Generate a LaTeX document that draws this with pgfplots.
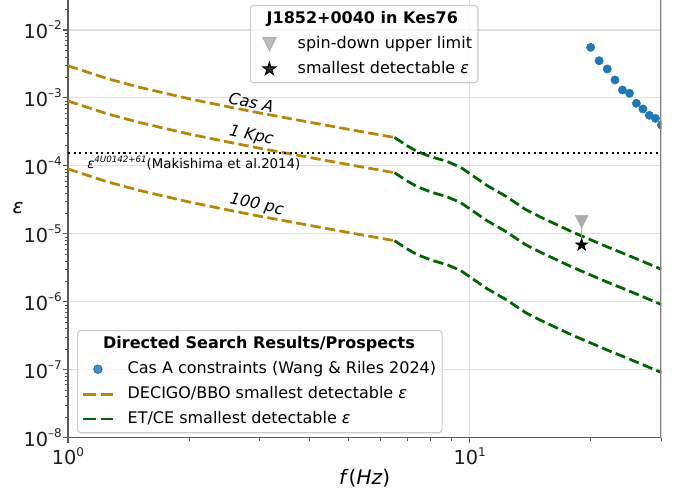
\documentclass[border=0pt]{standalone}
\usepackage{fontspec}
\setmainfont{DejaVu Sans}
\usepackage{pgfplots}
\pgfplotsset{compat=1.18}

\definecolor{dgold}{RGB}{184,134,11}
\definecolor{dgreen}{RGB}{0,100,0}
\definecolor{tabblue}{RGB}{31,119,180}
\definecolor{spine}{RGB}{90,90,90}

% raised exponent for the tick labels
\newcommand{\sups}[1]{\raisebox{0.45em}{\fontsize{9}{10}\selectfont #1}}
% legend title that does not widen the text column
\newcommand{\legtitle}[2]{\makebox[0pt][l]{\hspace*{#1}\textbf{#2}}}

% downward triangle (width = height)
\pgfdeclareplotmark{vtri}{%
  \pgfpathmoveto{\pgfqpoint{0pt}{-\pgfplotmarksize}}%
  \pgfpathlineto{\pgfqpoint{-\pgfplotmarksize}{\pgfplotmarksize}}%
  \pgfpathlineto{\pgfqpoint{\pgfplotmarksize}{\pgfplotmarksize}}%
  \pgfpathclose\pgfusepathqfillstroke}
% filled five-pointed star
\pgfdeclareplotmark{fivestar}{%
  \pgfpathmoveto{\pgfpointpolar{90}{\pgfplotmarksize}}%
  \pgfpathlineto{\pgfpointpolar{126}{0.382\pgfplotmarksize}}%
  \pgfpathlineto{\pgfpointpolar{162}{\pgfplotmarksize}}%
  \pgfpathlineto{\pgfpointpolar{198}{0.382\pgfplotmarksize}}%
  \pgfpathlineto{\pgfpointpolar{234}{\pgfplotmarksize}}%
  \pgfpathlineto{\pgfpointpolar{270}{0.382\pgfplotmarksize}}%
  \pgfpathlineto{\pgfpointpolar{306}{\pgfplotmarksize}}%
  \pgfpathlineto{\pgfpointpolar{342}{0.382\pgfplotmarksize}}%
  \pgfpathlineto{\pgfpointpolar{18}{\pgfplotmarksize}}%
  \pgfpathlineto{\pgfpointpolar{54}{0.382\pgfplotmarksize}}%
  \pgfpathclose\pgfusepathqfillstroke}

\pgfplotsset{
  every axis legend/.append style={
    draw=black!20, fill=white, fill opacity=0.8, text opacity=1,
    rounded corners=2.5pt, line width=0.8pt,
    font=\fontsize{12}{14}\selectfont,
    inner xsep=3pt, inner ysep=2.6pt, row sep=3.4pt, column sep=8.5pt,
    nodes={inner sep=1.5pt, text height=9.3pt, text depth=3pt}},
  legend image code/.code={%
    \path[draw=none, fill=none] (0pt,0pt) (22.5pt,0pt);
    \draw[mark repeat=2,mark phase=2,#1]
      plot coordinates {(0pt,0pt) (11.25pt,0pt) (22.5pt,0pt)};},
  decigo/.style={dgold, line width=2.08pt, dash pattern=on 7.7pt off 3.3pt},
  etce/.style={dgreen, line width=2.08pt, dash pattern=on 7.7pt off 3.3pt},
}

\begin{document}
\begin{tikzpicture}
\path[use as bounding box] (-51pt,-42.2pt) rectangle (459pt,328.3pt);
\begin{axis}[
  scale only axis, width=445pt, height=328.3pt,
  xmode=log, ymode=log,
  xmin=1, xmax=30, ymin=1e-8, ymax=0.02763,
  axis x line*=bottom, axis y line*=left,
  axis line style={-, draw=spine, line width=0.8pt},
  xtick={1,10}, xticklabels={10\sups{0},10\sups{1}},
  minor xtick={2,3,4,5,6,7,8,9,20,30},
  ytick={1e-8,1e-7,1e-6,1e-5,1e-4,1e-3,1e-2},
  yticklabels={10\sups{–8},10\sups{–7},10\sups{–6},10\sups{–5},10\sups{–4},10\sups{–3},10\sups{–2}},
  minor ytick={2e-8,3e-8,4e-8,5e-8,6e-8,7e-8,8e-8,9e-8,
    2e-7,3e-7,4e-7,5e-7,6e-7,7e-7,8e-7,9e-7,
    2e-6,3e-6,4e-6,5e-6,6e-6,7e-6,8e-6,9e-6,
    2e-5,3e-5,4e-5,5e-5,6e-5,7e-5,8e-5,9e-5,
    2e-4,3e-4,4e-4,5e-4,6e-4,7e-4,8e-4,9e-4,
    2e-3,3e-3,4e-3,5e-3,6e-3,7e-3,8e-3,9e-3,2e-2},
  tick align=outside,
  major tick length=3.6pt, minor tick length=2.1pt,
  tick style={spine, line width=0.8pt},
  minor tick style={line width=0.6pt},
  ticklabel style={font=\fontsize{14.5}{16}\selectfont, text=black!88},
  yticklabel style={xshift=2.5pt},
  grid=major, major grid style={black!12, line width=0.8pt},
  clip marker paths=true,
  xlabel={\textit{f}(\textit{Hz})},
  xlabel style={at={(axis description cs:0.5,-0.0914)}, anchor=center,
    font=\fontsize{15}{17}\selectfont},
  ylabel={\textit{ε}},
  ylabel style={at={(axis description cs:-0.0843,0.525)}, anchor=center, rotate=-90,
    font=\fontsize{15}{17}\selectfont},
  legend style={at={(0.0152,0.246)}, anchor=north west},
  legend cell align=left,
]
\addlegendimage{empty legend}
\addlegendentry{\legtitle{-18.4pt}{Directed Search Results/Prospects}}
\addlegendimage{only marks, mark=*, mark size=3.1pt, tabblue}
\addlegendentry{Cas A constraints (Wang \& Riles 2024)}
\addlegendimage{decigo, dash pattern=on 9pt off 4.5pt}
\addlegendentry{DECIGO/BBO smallest detectable \textit{ε}}
\addlegendimage{etce, dash pattern=on 9pt off 4.5pt}
\addlegendentry{ET/CE smallest detectable \textit{ε}}

% DECIGO/BBO reach for Cas A distance, 1 kpc and 100 pc
\addplot[decigo, forget plot] coordinates {
  (1,2.98e-3) (1.25,1.93e-3) (1.5,1.445e-3) (2,9.74e-4) (2.5,7.43e-4)
  (3,6.01e-4) (4,4.39e-4) (5,3.45e-4) (6.5,2.62e-4)};
\addplot[decigo, forget plot] coordinates {
  (1,9.02e-4) (1.25,5.86e-4) (1.5,4.38e-4) (2,2.95e-4) (2.5,2.25e-4)
  (3,1.82e-4) (4,1.33e-4) (5,1.045e-4) (6.5,7.94e-5)};
\addplot[decigo, forget plot] coordinates {
  (1,9.02e-5) (1.25,5.86e-5) (1.5,4.38e-5) (2,2.95e-5) (2.5,2.25e-5)
  (3,1.82e-5) (4,1.33e-5) (5,1.045e-5) (6.5,7.94e-6)};

% ET/CE reach for the same three distances
\addplot[etce, forget plot] coordinates {
  (6.5,2.62e-4) (7,1.97e-4) (7.4,1.63e-4) (8,1.37e-4) (8.8,1.16e-4)
  (9.5,9.5e-5) (10,7.72e-5) (11,5.23e-5) (12.3,3.58e-5) (13.8,2.27e-5)
  (15,1.77e-5) (18,1.07e-5) (22,6.44e-6) (24,5.23e-6) (26.5,4.11e-6) (30,3.01e-6)};
\addplot[etce, forget plot] coordinates {
  (6.5,7.94e-5) (7,5.97e-5) (7.4,4.95e-5) (8,4.14e-5) (8.8,3.50e-5)
  (9.5,2.88e-5) (10,2.34e-5) (11,1.585e-5) (12.3,1.084e-5) (13.8,6.89e-6)
  (15,5.37e-6) (18,3.24e-6) (22,1.95e-6) (24,1.585e-6) (26.5,1.245e-6) (30,9.12e-7)};
\addplot[etce, forget plot] coordinates {
  (6.5,7.94e-6) (7,5.97e-6) (7.4,4.95e-6) (8,4.14e-6) (8.8,3.50e-6)
  (9.5,2.88e-6) (10,2.34e-6) (11,1.585e-6) (12.3,1.084e-6) (13.8,6.89e-7)
  (15,5.37e-7) (18,3.24e-7) (22,1.95e-7) (24,1.585e-7) (26.5,1.245e-7) (30,9.12e-8)};

% 4U 0142+61 ellipticity
\addplot[black, line width=1.56pt, dash pattern=on 1.56pt off 2.6pt, forget plot]
  coordinates {(1,1.56e-4) (30,1.56e-4)};

% Cas A search results
\addplot[only marks, mark=*, mark size=3.1pt, tabblue, forget plot] coordinates {
  (20,5.56e-3) (21,3.53e-3) (22,2.67e-3) (23,1.84e-3) (24,1.31e-3) (25,1.17e-3)
  (26,8.34e-4) (27,6.88e-4) (28,5.55e-4) (29,5.01e-4) (30,4.0e-4)};

% J1852+0040: spin-down limit and smallest detectable value
\addplot[gray!70, line width=0.8pt, forget plot] coordinates {(19,1.51e-5) (19,6.9e-6)};
\addplot[only marks, mark=vtri, mark size=4.8pt, gray!65, forget plot] coordinates {(19,1.51e-5)};
\addplot[only marks, mark=fivestar, mark size=5pt, black, forget plot] coordinates {(19,6.9e-6)};

\node[rotate=-12, font=\fontsize{12}{14}\selectfont\itshape] at (axis cs:2.86,8.7e-4) {Cas A};
\node[rotate=-12, font=\fontsize{12}{14}\selectfont\itshape] at (axis cs:2.86,2.75e-4) {1 Kpc};
\node[rotate=-12, font=\fontsize{12}{14}\selectfont\itshape] at (axis cs:2.95,2.66e-5) {100 pc};
\node[anchor=west, font=\fontsize{10}{12}\selectfont, inner sep=0pt] at (axis cs:1.115,1.10e-4)
  {\textit{ε}\raisebox{0.42em}{\fontsize{6.5}{7}\selectfont\itshape 4U0142+61}(Makishima et al.2014)};

\draw[gray, line width=1.4pt] (rel axis cs:1,0) -- (rel axis cs:1,1);
\end{axis}

\begin{axis}[
  scale only axis, width=445pt, height=328.3pt, hide axis,
  xmin=0, xmax=1, ymin=0, ymax=1,
  legend style={at={(0.3065,0.9886)}, anchor=north west},
  legend cell align=left,
]
\addlegendimage{empty legend}
\addlegendentry{\legtitle{-23.3pt}{J1852+0040 in Kes76}}
\addlegendimage{only marks, mark=vtri, mark size=4.8pt, gray!65}
\addlegendentry{spin-down upper limit}
\addlegendimage{only marks, mark=fivestar, mark size=5pt, black}
\addlegendentry{smallest detectable \textit{ε}}
\end{axis}
\end{tikzpicture}
\end{document}
